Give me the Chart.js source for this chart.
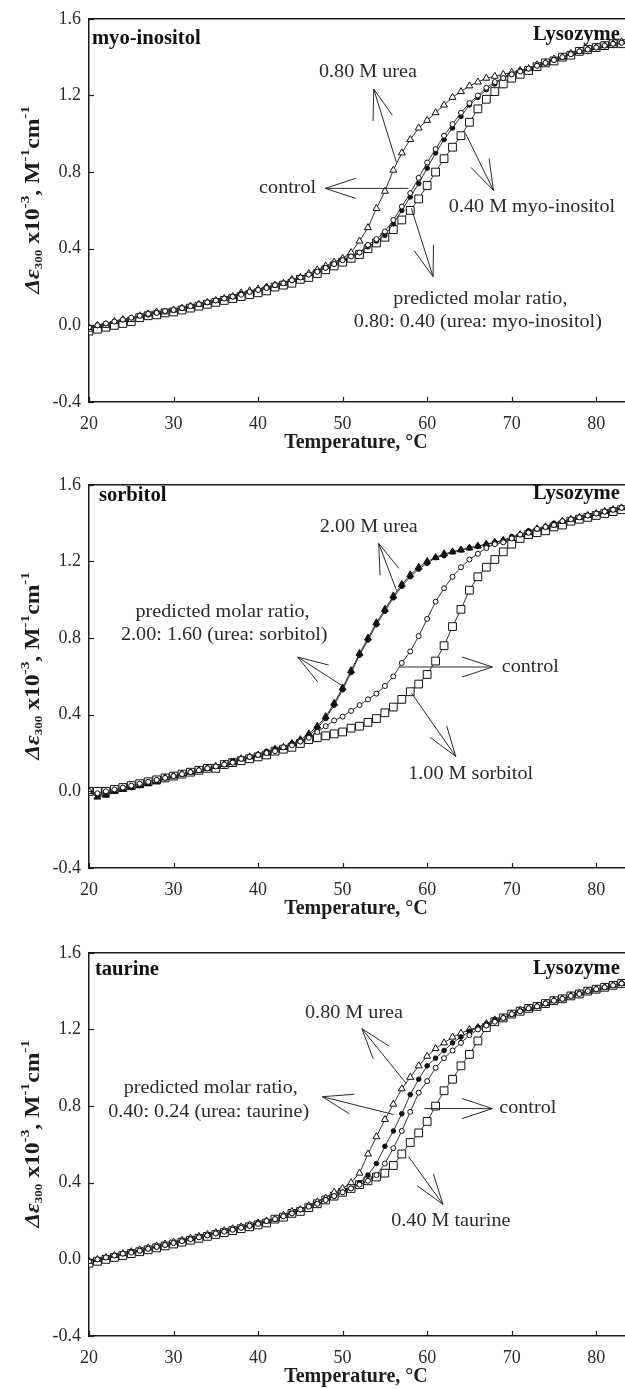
<!DOCTYPE html>
<html>
<head>
<meta charset="utf-8">
<script src="https://cdn.jsdelivr.net/npm/chart.js@4.4.1/dist/chart.umd.min.js"></script>
<style>
  html, body { margin: 0; padding: 0; background: #fff; width: 625px; height: 1389px; overflow: hidden; }
  .panel { position: absolute; left: 0; width: 645px; height: 460px; }
</style>
</head>
<body>
<div class="panel" style="top:0px"><canvas id="c1" width="645" height="460"></canvas></div>
<div class="panel" style="top:466px"><canvas id="c2" width="645" height="460"></canvas></div>
<div class="panel" style="top:934px"><canvas id="c3" width="645" height="460"></canvas></div>
<script>
// temperature, °C
const temperature = [20,21,22,23,24,25,26,27,28,29,30,31,32,33,34,35,36,37,38,39,40,41,42,43,44,45,46,47,48,49,50,51,52,53,54,55,56,57,58,59,60,61,62,63,64,65,66,67,68,69,70,71,72,73,74,75,76,77,78,79,80,81,82,83,84];

const xTicks = [20, 30, 40, 50, 60, 70, 80];
const yTicks = [-0.4, 0.0, 0.4, 0.8, 1.2, 1.6];

// panel 1: myo-inositol
const p1Control = [-0.01,0.00,0.01,0.02,0.03,0.04,0.05,0.06,0.065,0.075, 0.08,0.09,0.10,0.11,0.12,0.13,0.14,0.15,0.16,0.175, 0.185,0.195,0.21,0.22,0.235,0.25,0.265,0.28,0.30,0.32, 0.34,0.36,0.38,0.42,0.45,0.49,0.55,0.62,0.69,0.77, 0.85,0.92,0.99,1.05,1.11,1.16,1.20,1.24,1.27,1.29, 1.31,1.325,1.34,1.355,1.37,1.385,1.40,1.415,1.43,1.44, 1.45,1.46,1.47,1.475,1.48];
const p1Urea = [-0.02,0.00,0.00,0.02,0.03,0.03,0.05,0.06,0.07,0.07, 0.08,0.09,0.10,0.11,0.12,0.13,0.14,0.15,0.17,0.18, 0.19,0.20,0.21,0.22,0.24,0.25,0.27,0.29,0.31,0.33, 0.35,0.38,0.44,0.51,0.61,0.70,0.81,0.90,0.97,1.03, 1.07,1.11,1.15,1.19,1.22,1.25,1.27,1.29,1.30,1.31, 1.32,1.33,1.34,1.36,1.37,1.39,1.40,1.42,1.43,1.44, 1.45,1.46,1.47,1.48,1.48];
const p1Cosolvent = [-0.03,-0.02,-0.01,0.00,0.01,0.02,0.04,0.05,0.055,0.065, 0.07,0.08,0.09,0.10,0.11,0.12,0.13,0.14,0.15,0.16, 0.17,0.18,0.20,0.21,0.22,0.24,0.25,0.27,0.29,0.31, 0.33,0.35,0.37,0.40,0.43,0.46,0.50,0.55,0.60,0.66, 0.73,0.80,0.87,0.93,0.99,1.06,1.13,1.18,1.22,1.26, 1.29,1.31,1.33,1.35,1.37,1.38,1.40,1.41,1.43,1.44, 1.45,1.46,1.47,1.47,1.48];
const p1Predicted = [-0.01,0.00,0.01,0.02,0.03,0.04,0.05,0.055,0.065,0.075, 0.08,0.09,0.10,0.11,0.12,0.13,0.14,0.15,0.165,0.175, 0.185,0.20,0.21,0.22,0.235,0.25,0.265,0.28,0.30,0.32, 0.34,0.36,0.38,0.41,0.44,0.47,0.53,0.60,0.67,0.74, 0.82,0.90,0.97,1.03,1.09,1.15,1.19,1.23,1.26,1.29, 1.31,1.33,1.34,1.355,1.37,1.385,1.40,1.415,1.43,1.44, 1.45,1.46,1.47,1.475,1.48];

// panel 2: sorbitol
const p2Control = [0.00,-0.01,0.00,0.01,0.02,0.03,0.04,0.05,0.06,0.07, 0.08,0.09,0.10,0.11,0.12,0.13,0.14,0.15,0.17,0.18, 0.19,0.20,0.21,0.23,0.24,0.26,0.28,0.31,0.34,0.37, 0.39,0.42,0.45,0.48,0.51,0.55,0.60,0.67,0.73,0.81, 0.90,0.99,1.06,1.12,1.17,1.21,1.24,1.27,1.29,1.30, 1.32,1.34,1.35,1.37,1.38,1.39,1.41,1.42,1.43,1.44, 1.45,1.46,1.47,1.48,1.48];
const p2Urea = [0.00,-0.03,-0.02,0.00,0.01,0.02,0.03,0.04,0.05,0.07, 0.08,0.09,0.10,0.11,0.12,0.13,0.14,0.15,0.17,0.18, 0.19,0.20,0.22,0.23,0.25,0.27,0.30,0.34,0.39,0.46, 0.54,0.63,0.72,0.80,0.88,0.95,1.02,1.08,1.13,1.17, 1.20,1.22,1.24,1.25,1.26,1.27,1.28,1.29,1.30,1.31, 1.32,1.34,1.35,1.37,1.38,1.39,1.41,1.42,1.43,1.44, 1.45,1.46,1.47,1.48,1.48];
const p2Cosolvent = [0.00,0.00,0.00,0.01,0.02,0.03,0.04,0.05,0.06,0.07, 0.08,0.09,0.10,0.11,0.12,0.12,0.14,0.15,0.16,0.17, 0.18,0.19,0.21,0.22,0.23,0.25,0.27,0.28,0.29,0.30, 0.31,0.33,0.34,0.36,0.38,0.41,0.44,0.48,0.52,0.56, 0.61,0.68,0.76,0.86,0.95,1.05,1.12,1.17,1.21,1.25, 1.29,1.32,1.34,1.35,1.36,1.38,1.39,1.41,1.42,1.43, 1.44,1.45,1.46,1.47,1.47];
const p2Predicted = [0.00,-0.02,-0.01,0.00,0.02,0.02,0.03,0.05,0.06,0.07, 0.08,0.09,0.10,0.11,0.12,0.13,0.14,0.16,0.17,0.18, 0.19,0.21,0.22,0.23,0.25,0.26,0.29,0.33,0.38,0.45, 0.53,0.62,0.71,0.79,0.87,0.94,1.01,1.07,1.12,1.16, 1.19,1.22,1.23,1.25,1.26,1.27,1.28,1.29,1.30,1.31, 1.33,1.34,1.36,1.37,1.38,1.40,1.41,1.42,1.43,1.44, 1.45,1.46,1.47,1.48,1.48];

// panel 3: taurine
const p3Control = [-0.01,0.00,0.01,0.02,0.03,0.035,0.045,0.055,0.065,0.075, 0.085,0.095,0.105,0.115,0.125,0.135,0.145,0.155,0.165,0.175, 0.185,0.20,0.21,0.225,0.24,0.26,0.275,0.29,0.31,0.33, 0.35,0.37,0.39,0.41,0.44,0.50,0.58,0.67,0.77,0.87, 0.93,1.00,1.05,1.09,1.13,1.17,1.20,1.22,1.24,1.26, 1.28,1.295,1.31,1.32,1.335,1.35,1.36,1.375,1.385,1.40, 1.41,1.42,1.43,1.44,1.45];
const p3Urea = [-0.01,0.00,0.01,0.02,0.03,0.04,0.05,0.06,0.07,0.08, 0.09,0.10,0.11,0.12,0.13,0.14,0.15,0.16,0.17,0.18, 0.19,0.20,0.21,0.23,0.25,0.26,0.28,0.30,0.32,0.35, 0.37,0.40,0.45,0.55,0.64,0.73,0.81,0.89,0.95,1.01, 1.06,1.10,1.13,1.16,1.18,1.20,1.21,1.23,1.25,1.26, 1.28,1.30,1.31,1.32,1.335,1.35,1.36,1.375,1.39,1.40, 1.41,1.42,1.43,1.44,1.45];
const p3Cosolvent = [-0.02,-0.01,0.00,0.01,0.02,0.03,0.04,0.05,0.06,0.07, 0.08,0.09,0.10,0.11,0.12,0.13,0.14,0.15,0.16,0.17, 0.18,0.19,0.21,0.22,0.24,0.25,0.27,0.29,0.31,0.33, 0.35,0.37,0.39,0.41,0.43,0.45,0.49,0.55,0.61,0.66, 0.72,0.80,0.88,0.94,1.01,1.07,1.14,1.21,1.24,1.26, 1.28,1.295,1.31,1.32,1.335,1.35,1.36,1.375,1.385,1.40, 1.41,1.42,1.43,1.44,1.45];
const p3Predicted = [-0.01,0.00,0.01,0.02,0.03,0.04,0.045,0.055,0.065,0.075, 0.085,0.095,0.105,0.115,0.125,0.135,0.145,0.155,0.165,0.175, 0.19,0.20,0.21,0.225,0.24,0.26,0.275,0.29,0.31,0.33, 0.35,0.37,0.40,0.44,0.50,0.59,0.67,0.76,0.86,0.94, 1.01,1.05,1.09,1.13,1.16,1.19,1.21,1.23,1.25,1.26, 1.28,1.295,1.31,1.32,1.335,1.35,1.36,1.375,1.385,1.40, 1.41,1.42,1.43,1.44,1.45];

// text annotations and arrows (in data units)
const notes = {
  c1: {
    labels: [
      { text: 'myo-inositol', x: 20.35, y: 1.497, align: 'left', bold: true },
      { text: 'Lysozyme', x: 82.8, y: 1.518, align: 'right', bold: true },
      { text: '0.80 M urea', x: 53.0, y: 1.321 },
      { text: 'control', x: 43.5, y: 0.715 },
      { text: '0.40 M myo-inositol', x: 72.4, y: 0.617 },
      { text: 'predicted molar ratio,', x: 66.3, y: 0.135 },
      { text: '0.80: 0.40 (urea: myo-inositol)', x: 66.0, y: 0.016 }
    ],
    arrows: [
      { from: [56.37, 0.850], to: [53.68, 1.233] },
      { from: [57.78, 0.715], to: [47.95, 0.715] },
      { from: [64.56, 1.0], to: [67.84, 0.705] },
      { from: [58.13, 0.611], to: [60.70, 0.254] }
    ]
  },
  c2: {
    labels: [
      { text: 'sorbitol', x: 21.17, y: 1.543, align: 'left', bold: true },
      { text: 'Lysozyme', x: 82.8, y: 1.553, align: 'right', bold: true },
      { text: '2.00 M urea', x: 53.1, y: 1.377 },
      { text: 'predicted molar ratio,', x: 35.8, y: 0.935 },
      { text: '2.00: 1.60 (urea: sorbitol)', x: 36.0, y: 0.816 },
      { text: 'control', x: 72.2, y: 0.649 },
      { text: '1.00 M sorbitol', x: 65.15, y: 0.088 }
    ],
    arrows: [
      { from: [56.37, 1.049], to: [54.27, 1.294] },
      { from: [50.18, 0.545], to: [44.68, 0.701] },
      { from: [56.73, 0.649], to: [67.72, 0.649] },
      { from: [58.13, 0.514], to: [63.39, 0.182] }
    ]
  },
  c3: {
    labels: [
      { text: 'taurine', x: 20.7, y: 1.511, align: 'left', bold: true },
      { text: 'Lysozyme', x: 82.8, y: 1.516, align: 'right', bold: true },
      { text: '0.80 M urea', x: 51.35, y: 1.282 },
      { text: 'predicted molar ratio,', x: 34.4, y: 0.891 },
      { text: '0.40: 0.24 (urea: taurine)', x: 34.15, y: 0.766 },
      { text: 'control', x: 71.9, y: 0.787 },
      { text: '0.40 M taurine', x: 62.8, y: 0.198 }
    ],
    arrows: [
      { from: [57.54, 0.917], to: [52.28, 1.204] },
      { from: [56.02, 0.756], to: [47.6, 0.849] },
      { from: [59.65, 0.787], to: [67.72, 0.787] },
      { from: [57.78, 0.537], to: [61.87, 0.287] }
    ]
  }
};

const SERIF = '"Liberation Serif", "Times New Roman", serif';
const INK = '#1c1c1c';

const decor = {
  id: 'decor',
  afterDraw(chart) {
    const { ctx, chartArea: a, scales: { x, y } } = chart;
    const spec = notes[chart.canvas.id];
    ctx.save();
    ctx.strokeStyle = INK;
    ctx.fillStyle = INK;

    // top frame line
    ctx.lineWidth = 1.5;
    ctx.beginPath();
    ctx.moveTo(a.left, a.top);
    ctx.lineTo(a.right, a.top);
    ctx.stroke();

    // inward tick marks
    ctx.lineWidth = 1.2;
    xTicks.forEach(t => {
      const px = Math.round(x.getPixelForValue(t)) + 0.5;
      ctx.beginPath(); ctx.moveTo(px, a.bottom); ctx.lineTo(px, a.bottom - 5); ctx.stroke();
    });
    yTicks.forEach(t => {
      const py = Math.round(y.getPixelForValue(t)) + 0.5;
      ctx.beginPath(); ctx.moveTo(a.left, py); ctx.lineTo(a.left + 5, py); ctx.stroke();
    });

    // x title
    ctx.font = 'bold 20px ' + SERIF;
    ctx.textAlign = 'center';
    ctx.textBaseline = 'middle';
    ctx.fillText('Temperature, °C', 356, a.bottom + 41);

    // y title with sub/superscripts
    const parts = [
      { t: 'Δε', f: 'italic bold 20px ' + SERIF, dy: 0 },
      { t: '300', f: 'bold 11px ' + SERIF, dy: 5 },
      { t: ' x10', f: 'bold 20px ' + SERIF, dy: 0 },
      { t: '-3', f: 'bold 13px ' + SERIF, dy: -8 },
      { t: ', M', f: 'bold 20px ' + SERIF, dy: 0 },
      { t: '-1', f: 'bold 13px ' + SERIF, dy: -8 },
      { t: 'cm', f: 'bold 20px ' + SERIF, dy: 0 },
      { t: '-1', f: 'bold 13px ' + SERIF, dy: -8 }
    ];
    let total = 0;
    parts.forEach(p => { ctx.font = p.f; p.w = ctx.measureText(p.t).width; total += p.w; });
    ctx.save();
    ctx.translate(34, a.top + 181);
    ctx.rotate(-Math.PI / 2);
    ctx.scale(1.18, 1);
    ctx.textAlign = 'left';
    let cx = -total / 2;
    parts.forEach(p => { ctx.font = p.f; ctx.fillText(p.t, cx, p.dy); cx += p.w; });
    ctx.restore();

    // arrows: line plus open fan head at the label end
    ctx.lineWidth = 1;
    ctx.strokeStyle = '#2a2a2a';
    spec.arrows.forEach(ar => {
      const x0 = x.getPixelForValue(ar.from[0]), y0 = y.getPixelForValue(ar.from[1]);
      const x1 = x.getPixelForValue(ar.to[0]), y1 = y.getPixelForValue(ar.to[1]);
      const ang = Math.atan2(y0 - y1, x0 - x1);
      ctx.beginPath();
      ctx.moveTo(x0, y0); ctx.lineTo(x1, y1);
      [-0.32, 0.32].forEach(d => {
        ctx.moveTo(x1, y1);
        ctx.lineTo(x1 + 32 * Math.cos(ang + d), y1 + 32 * Math.sin(ang + d));
      });
      ctx.stroke();
    });

    // text labels (slightly widened to match the source rendering)
    ctx.textBaseline = 'middle';
    spec.labels.forEach(l => {
      ctx.save();
      ctx.translate(x.getPixelForValue(l.x), y.getPixelForValue(l.y));
      ctx.scale(l.bold ? 1.03 : 1.12, 1);
      ctx.font = (l.bold ? 'bold 20px ' : '18px ') + SERIF;
      ctx.fillStyle = l.bold ? '#111' : '#2a2a2a';
      ctx.textAlign = l.align || 'center';
      ctx.fillText(l.text, 0, 0);
      ctx.restore();
    });
    ctx.restore();
  }
};

function series(values, style) {
  return Object.assign({
    data: temperature.map((t, i) => ({ x: t, y: values[i] })),
    showLine: true,
    borderColor: '#333',
    borderWidth: 1,
    pointBorderColor: '#111',
    pointBorderWidth: 1,
    pointBackgroundColor: '#fff',
    tension: 0
  }, style);
}

function makePanel(id, control, urea, cosolvent, predicted, ureaFill) {
  new Chart(document.getElementById(id), {
    type: 'line',
    data: {
      datasets: [
        series(control, { label: 'control', pointStyle: 'circle', pointRadius: 2.5 }),
        series(predicted, { label: 'predicted', pointStyle: 'circle', pointRadius: 2.3, pointBackgroundColor: '#111' }),
        series(urea, { label: 'urea', pointStyle: 'triangle', pointRadius: 4, pointBackgroundColor: ureaFill }),
        series(cosolvent, { label: 'cosolvent', pointStyle: 'rect', pointRadius: 5.5 })
      ]
    },
    options: {
      responsive: false,
      animation: false,
      layout: { padding: { top: 17, left: 0, right: 0, bottom: 0 } },
      plugins: { legend: { display: false }, tooltip: { enabled: false } },
      scales: {
        x: {
          type: 'linear', min: 20, max: 85,
          grid: { display: false, drawTicks: false },
          border: { display: true, color: INK, width: 1.5 },
          ticks: { stepSize: 10, includeBounds: false, padding: 11, color: '#2a2a2a', font: { family: SERIF, size: 18 } },
          afterFit(s) { s.height = 58; }
        },
        y: {
          min: -0.4, max: 1.6,
          grid: { display: false, drawTicks: false },
          border: { display: true, color: INK, width: 1.5 },
          ticks: {
            stepSize: 0.4, padding: 8, color: '#2a2a2a', font: { family: SERIF, size: 18 },
            callback: v => (Math.abs(v) < 1e-9 ? 0 : v).toFixed(1)
          },
          afterFit(s) { s.width = 89; }
        }
      }
    },
    plugins: [decor]
  });
}

makePanel('c1', p1Control, p1Urea, p1Cosolvent, p1Predicted, '#fff');
makePanel('c2', p2Control, p2Urea, p2Cosolvent, p2Predicted, '#111');
makePanel('c3', p3Control, p3Urea, p3Cosolvent, p3Predicted, '#fff');
</script>
</body>
</html>
